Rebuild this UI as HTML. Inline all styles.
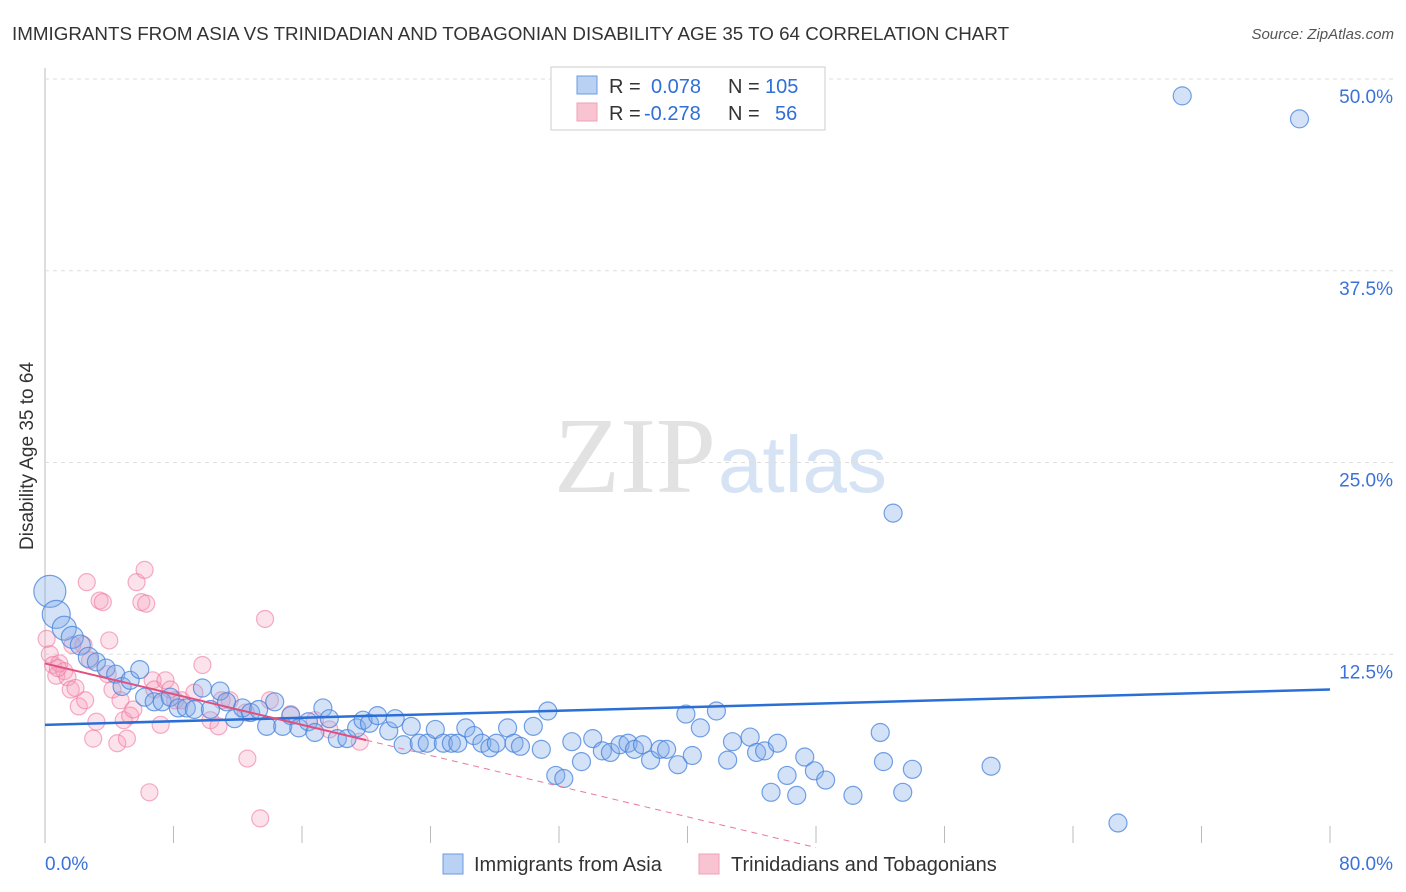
<!DOCTYPE html>
<html><head><meta charset="utf-8"><style>
body{margin:0;background:#fff;font-family:"Liberation Sans",sans-serif;}
#wrap{position:relative;width:1406px;height:892px;overflow:hidden}
</style></head><body>
<div id="wrap">
<svg id="svg" width="1406" height="892" xmlns="http://www.w3.org/2000/svg">
<text x="12" y="40" font-size="18.8" fill="#333">IMMIGRANTS FROM ASIA VS TRINIDADIAN AND TOBAGONIAN DISABILITY AGE 35 TO 64 CORRELATION CHART</text>
<text x="1394" y="39" font-size="15" fill="#555" font-style="italic" text-anchor="end">Source: ZipAtlas.com</text>
<text x="716" y="492" font-size="108" fill="#e2e2e2" text-anchor="end" font-family="Liberation Serif,serif">ZIP</text>
<text x="718" y="492" font-size="80" fill="#d6e3f5">atlas</text>
<text transform="translate(33,456) rotate(-90)" font-size="19" fill="#333" text-anchor="middle">Disability Age 35 to 64</text>
<g id="grid"></g><g id="marks"></g>
<g>
<rect x="551" y="67" width="274" height="63" fill="#fff" stroke="#ccc"/>
<rect x="577" y="76" width="20" height="18" fill="#b9d2f3" stroke="#6a9be0"/>
<rect x="577" y="103" width="20" height="18" fill="#f9c4d2" stroke="#f0a0b8"/>
<text x="609" y="93" font-size="20" fill="#333">R = <tspan fill="#2f6fd8" x="651">0.078</tspan><tspan x="728" fill="#333">N =</tspan><tspan fill="#2f6fd8" x="765">105</tspan></text>
<text x="609" y="120" font-size="20" fill="#333">R = <tspan fill="#2f6fd8" x="644">-0.278</tspan><tspan x="728" fill="#333">N =</tspan><tspan fill="#2f6fd8" x="775">56</tspan></text>
</g>
<g>
<rect x="443" y="854" width="20" height="20" fill="#b9d2f3" stroke="#6a9be0"/>
<text x="474" y="871" font-size="20" fill="#333">Immigrants from Asia</text>
<rect x="699" y="854" width="20" height="20" fill="#f9c4d2" stroke="#f0a0b8"/>
<text x="731" y="871" font-size="20" fill="#333">Trinidadians and Tobagonians</text>
</g>
</svg></div>
<script>
const yTicks=[12.5,25,37.5,50];
const yTickLabels=["12.5%","25.0%","37.5%","50.0%"];
const xTicks=[0,8,16,24,32,40,48,56,64,72,80];
const xEndLabels=["0.0%","80.0%"];
const blueX=[0.3,0.7,1.2,1.7,2.2,2.7,3.2,3.8,4.4,4.8,5.3,5.9,6.2,6.8,7.3,7.8,8.3,8.8,9.3,9.8,10.3,10.9,11.3,11.8,12.3,12.8,13.3,13.8,14.3,14.8,15.3,15.8,16.4,16.8,17.3,17.7,18.2,18.8,19.4,19.8,20.2,20.7,21.4,21.8,22.3,22.8,23.3,23.8,24.3,24.8,25.3,25.7,26.2,26.7,27.2,27.7,28.1,28.8,29.2,29.6,30.4,30.9,31.3,31.8,32.3,32.8,33.4,34.1,34.7,35.2,35.8,36.3,36.7,37.2,37.7,38.3,38.7,39.4,39.9,40.3,40.8,41.8,42.5,42.8,43.9,44.3,44.8,45.2,45.6,46.2,46.8,47.3,47.9,48.6,50.3,52.0,52.2,53.4,54.0,58.9,52.8,66.8,70.8,78.1];
const blueY=[16.6,15.1,14.2,13.6,13.1,12.3,12.0,11.6,11.2,10.4,10.8,11.5,9.7,9.4,9.4,9.7,9.0,9.0,8.9,10.3,8.9,10.1,9.4,8.3,9.0,8.7,8.9,7.8,9.4,7.8,8.5,7.7,8.1,7.4,9.0,8.3,7.0,7.0,7.7,8.2,8.0,8.5,7.5,8.3,6.6,7.8,6.7,6.7,7.6,6.7,6.7,6.7,7.7,7.2,6.7,6.4,6.7,7.7,6.7,6.5,7.8,6.3,8.8,4.6,4.4,6.8,5.5,7.0,6.2,6.1,6.6,6.7,6.3,6.6,5.6,6.3,6.3,5.3,8.6,5.9,7.7,8.8,5.6,6.8,7.1,6.1,6.2,3.5,6.7,4.6,3.3,5.8,4.9,4.3,3.3,7.4,5.5,3.5,5.0,5.2,21.7,1.5,48.9,47.4];
const blueSize=[16,14,12,11,10,10];
const pinkX=[0.1,0.3,0.5,0.7,0.9,1.2,1.4,1.6,1.9,2.1,2.4,2.6,2.8,3.0,3.2,3.4,3.6,3.9,4.0,4.2,4.5,4.7,4.9,5.1,5.3,5.5,5.7,6.0,6.2,6.3,6.5,6.7,6.8,7.2,7.5,7.8,8.1,8.5,9.3,9.8,10.3,10.8,11.0,11.5,12.5,12.6,13.4,13.7,14.0,15.3,16.8,17.7,19.6,0.8,1.7,2.5];
const pinkY=[13.5,12.5,11.8,11.1,11.9,11.4,11.0,10.2,10.3,9.1,13.1,17.2,12.1,7.0,8.1,16.0,15.9,11.2,13.4,10.2,6.7,9.5,8.2,7.0,8.5,8.9,17.2,15.9,18.0,15.8,3.5,10.8,10.2,7.9,10.8,10.2,9.5,9.5,10.0,11.8,8.2,7.8,9.5,9.5,8.7,5.7,1.8,14.8,9.5,8.6,8.2,7.6,6.8,11.6,13.1,9.5];
const blueTrend=[7.9,10.2];
const pinkTrend=[11.9,-0.25];
const X0=45,X1=1330,Y0=846,Y50=79;
const sx=v=>X0+(X1-X0)*v/80;
const sy=v=>Y0-(Y0-Y50)*v/50;
const NS="http://www.w3.org/2000/svg";
function mk(tag,attrs,parent){const e=document.createElementNS(NS,tag);for(const k in attrs)e.setAttribute(k,attrs[k]);parent.appendChild(e);return e;}
const grid=document.getElementById('grid'),marks=document.getElementById('marks');
let ax=mk('line',{x1:X0,y1:68,x2:X0,y2:843,stroke:'#bbb'},grid);


yTicks.forEach((t,i)=>{
 const l=mk('line',{x1:X0,x2:1394,y1:sy(t),y2:sy(t),stroke:'#ddd','stroke-dasharray':'4,4'},grid);
 
 
 const tx=mk('text',{x:1393,y:sy(t)+24,'font-size':19,fill:'#3b72d9','text-anchor':'end'},grid);
 tx.textContent=yTickLabels[i];
 
 
});
xTicks.forEach(t=>{
 const l=mk('line',{x1:sx(t),x2:sx(t),y1:826,y2:843,stroke:'#bbb'},grid);
 
 
});
[[0,'start',45],[80,'end',1393]].forEach((a,i)=>{
 const tx=mk('text',{x:a[2],y:870,'font-size':19,fill:'#3b72d9','text-anchor':a[1]},grid);
 tx.textContent=xEndLabels[i];
 
 
});
pinkX.forEach((x,i)=>{
 const c=mk('circle',{cx:sx(x),cy:sy(pinkY[i]),r:8.5,fill:'rgba(245,160,190,0.3)',stroke:'rgba(240,120,160,0.6)','stroke-width':1.2},marks);
 
 
});
blueX.forEach((x,i)=>{
 const c=mk('circle',{cx:sx(x),cy:sy(blueY[i]),r:blueSize[i]||9,fill:'rgba(130,172,232,0.35)',stroke:'rgba(70,130,220,0.75)','stroke-width':1.2},marks);
 
 
});
let bt=mk('line',{x1:sx(0),y1:sy(blueTrend[0]),x2:sx(80),y2:sy(blueTrend[1]),stroke:'#2a6fd6','stroke-width':2.5},marks);


const pf=x=>pinkTrend[0]+pinkTrend[1]*x;
let ps=mk('line',{x1:sx(0),y1:sy(pf(0)),x2:sx(20),y2:sy(pf(20)),stroke:'#e0507e','stroke-width':2},marks);


let pd=mk('line',{x1:sx(20),y1:sy(pf(20)),x2:sx(48),y2:sy(pf(48)),stroke:'#e87a9c','stroke-width':1,'stroke-dasharray':'6,5'},marks);


</script>
</body></html>
